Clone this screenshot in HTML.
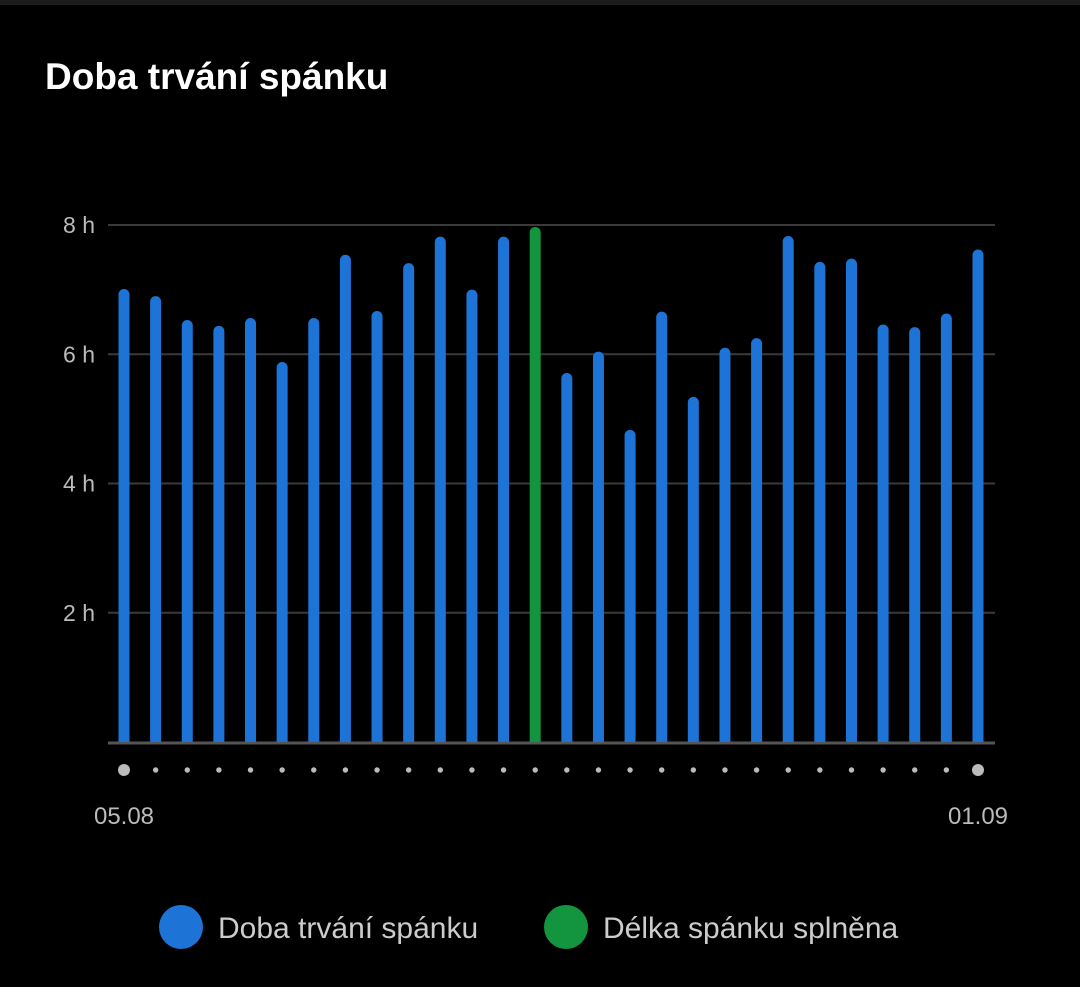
<!DOCTYPE html>
<html><head><meta charset="utf-8"><style>
html,body{margin:0;padding:0;background:#000;width:1080px;height:987px;overflow:hidden;font-family:"Liberation Sans",sans-serif}
</style></head><body>
<svg width="1080" height="987">
<rect x="0" y="0" width="1080" height="5" fill="#1c1c1c"/>
<text x="45" y="89" fill="#fff" font-size="37" font-weight="bold">Doba trvání spánku</text>
<g id="grid"></g><g id="bars"></g><g id="dots"></g>
<text x="124" y="824" fill="#bbb" font-size="24" text-anchor="middle">05.08</text>
<text x="978" y="824" fill="#bbb" font-size="24" text-anchor="middle">01.09</text>
<circle cx="181" cy="927" r="22" fill="#1e74d6"/>
<text x="218" y="938" fill="#ccc" font-size="30">Doba trvání spánku</text>
<circle cx="566" cy="927" r="22" fill="#13943f"/>
<text x="603" y="938" fill="#ccc" font-size="30">Délka spánku splněna</text>
</svg>
<script>
const values=[7.01,6.9,6.53,6.44,6.56,5.88,6.56,7.54,6.67,7.41,7.82,7.0,7.82,7.97,5.71,6.04,4.83,6.66,5.34,6.1,6.25,7.83,7.43,7.48,6.46,6.42,6.63,7.62];
const goalMet=[0,0,0,0,0,0,0,0,0,0,0,0,0,1,0,0,0,0,0,0,0,0,0,0,0,0,0,0];
const yTicks=[2,4,6,8];
const NS="http://www.w3.org/2000/svg";
const y0=742,yMax=8,yTop=225;
const y=v=>y0-(v/yMax)*(y0-yTop);
const x=i=>124+i*(978-124)/(values.length-1);
function mk(t,a,p){const e=document.createElementNS(NS,t);for(const k in a)e.setAttribute(k,a[k]);p.appendChild(e);return e;}
const grid=document.getElementById('grid');
yTicks.forEach(t=>{
 const l=mk('line',{x1:108,x2:995,y1:y(t),y2:y(t),stroke:'#3a3a3a','stroke-width':2},grid);
 
 
 const tx=mk('text',{x:95,y:y(t)+8,fill:'#bbb','font-size':23,'text-anchor':'end'},grid);
 tx.textContent=t+' h';
 
 
});
const bars=document.getElementById('bars');
values.forEach((v,i)=>{
 const top=y(v);
 const r=mk('path',{d:`M${x(i)-5.5},${y0} L${x(i)-5.5},${top+5.5} A5.5,5.5 0 0 1 ${x(i)+5.5},${top+5.5} L${x(i)+5.5},${y0} Z`,fill:goalMet[i]?'#13943f':'#1e74d6'},bars);
 
 
});
const base=mk('line',{x1:108,x2:995,y1:y0+1,y2:y0+1,stroke:'#555','stroke-width':3},grid);


const dots=document.getElementById('dots');
values.forEach((v,i)=>{
 const big=(i===0||i===values.length-1);
 const c=mk('circle',{cx:x(i),cy:770,r:big?6:2.7,fill:'#bbb'},dots);
 
 
});
</script>
</body></html>
